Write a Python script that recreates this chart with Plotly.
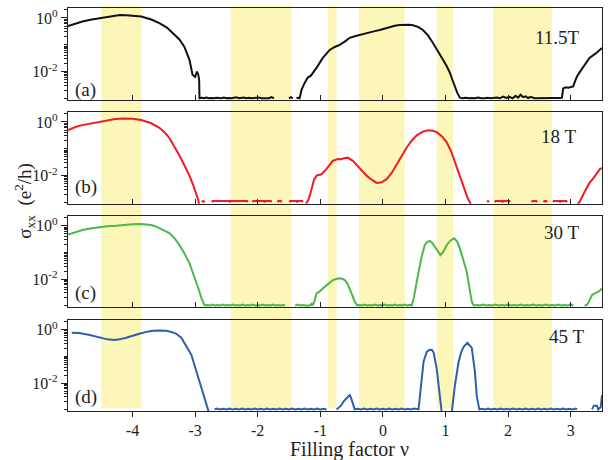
import plotly.graph_objects as go

# ---------------- data (log10 of sigma_xx in e^2/h vs filling factor) ----------------
band_start = [-4.5, -2.43, -0.88, -0.38, 0.86, 1.76]
band_end = [-3.86, -1.46, -0.74, 0.35, 1.12, 2.70]

fields = ["11.5T", "18 T", "30 T", "45 T"]
panel_tags = ["(a)", "(b)", "(c)", "(d)"]
x_ticks = [-4, -3, -2, -1, 0, 1, 2, 3]
x_ticktext = ["-4", "-3", "-2", "-1", "0", "1", "2", "3"]

G = (None, None)

black_pts = [(-5.03,-0.30),(-4.9,-0.20),(-4.8,-0.13),(-4.65,-0.06),(-4.53,-0.01),(-4.4,0.04),(-4.3,0.08),(-4.2,0.11),(-4.1,0.10),(-4.0,0.08),(-3.86,0.05),(-3.7,-0.06),(-3.57,-0.19),(-3.45,-0.36),(-3.36,-0.56),(-3.25,-0.80),(-3.17,-1.08),(-3.09,-1.56),(-3.04,-2.12),(-3.0,-2.19),(-2.97,-2.00),(-2.95,-2.10),(-2.935,-2.30),(-2.93,-2.99),
    (-2.9,-2.97),(-2.86,-2.99),(-2.82,-2.96),(-2.78,-2.99),(-2.74,-2.98),(-2.7,-2.99),(-2.66,-2.97),(-2.62,-2.99),(-2.58,-2.99),(-2.54,-2.96),(-2.5,-2.99),(-2.46,-2.98),(-2.42,-2.99),(-2.38,-2.97),(-2.34,-2.95),(-2.3,-2.99),(-2.26,-2.98),(-2.22,-2.96),(-2.18,-2.99),(-2.14,-2.97),(-2.1,-2.99),(-2.06,-2.98),(-2.02,-2.99),(-1.98,-2.96),(-1.94,-2.99),(-1.9,-2.99),(-1.86,-2.97),(-1.82,-2.99),(-1.78,-2.95),(-1.74,-2.99),
    G,(-1.5,-2.99),(-1.47,-2.95),(-1.44,-2.99),G,
    (-1.38,-2.99),(-1.36,-2.97),(-1.33,-2.99),(-1.30,-2.68),(-1.25,-2.42),(-1.2,-2.22),(-1.15,-2.15),(-1.1,-2.0),(-1.05,-1.82),(-0.96,-1.49),(-0.85,-1.19),(-0.77,-1.08),(-0.69,-1.0),(-0.61,-0.88),(-0.53,-0.74),(-0.45,-0.68),(-0.37,-0.63),(-0.29,-0.58),(-0.21,-0.52),(-0.13,-0.49),(-0.05,-0.45),(0.03,-0.40),(0.11,-0.33),(0.19,-0.29),(0.27,-0.26),(0.35,-0.25),(0.42,-0.25),(0.48,-0.27),(0.56,-0.33),(0.64,-0.45),(0.72,-0.65),(0.8,-0.93),(0.88,-1.22),(0.96,-1.56),(1.02,-1.8),(1.07,-2.04),(1.11,-2.3),(1.15,-2.56),(1.19,-2.8),(1.23,-2.97),
    (1.27,-2.99),(1.32,-2.97),(1.37,-2.99),(1.42,-2.98),(1.47,-2.99),(1.52,-2.96),(1.57,-2.99),(1.62,-2.99),(1.67,-2.97),(1.72,-2.99),(1.77,-2.98),(1.82,-2.96),(1.87,-2.99),(1.92,-2.93),(1.97,-2.98),(2.02,-2.94),(2.07,-2.99),(2.12,-2.90),(2.16,-2.97),(2.2,-2.86),(2.24,-2.95),(2.28,-2.92),(2.32,-2.98),(2.36,-2.94),(2.42,-2.99),(2.5,-2.98),(2.6,-2.98),(2.7,-2.98),(2.8,-2.98),(2.86,-2.97),
    (2.88,-2.62),(2.92,-2.58),(2.96,-2.60),(3.0,-2.57),(3.04,-2.55),(3.07,-2.35),(3.1,-2.18),(3.15,-2.0),(3.2,-1.82),(3.3,-1.49),(3.4,-1.32),(3.5,-1.12)]

red_pts = [(-5.03,-0.30),(-4.9,-0.18),(-4.8,-0.12),(-4.65,-0.05),(-4.53,0.0),(-4.4,0.06),(-4.3,0.1),(-4.16,0.13),(-4.0,0.12),(-3.86,0.07),(-3.7,-0.05),(-3.57,-0.22),(-3.48,-0.40),(-3.41,-0.6),(-3.33,-0.9),(-3.25,-1.25),(-3.17,-1.62),(-3.09,-2.0),(-3.03,-2.35),(-2.98,-2.65),(-2.95,-2.9),(-2.93,-3.2),G,
    (-2.89,-2.99),(-2.88,-2.95),(-2.86,-2.95),(-2.85,-2.99),G,
    (-2.73,-2.99),(-2.72,-2.94),(-2.45,-2.94),(-2.44,-2.99),(-2.43,-2.94),(-2.17,-2.94),(-2.16,-2.99),G,
    (-2.08,-2.99),(-2.07,-2.94),(-1.90,-2.94),(-1.89,-2.99),(-1.88,-2.94),(-1.79,-2.94),(-1.78,-2.99),G,
    (-1.68,-2.99),(-1.67,-2.94),(-1.63,-2.94),(-1.62,-2.99),G,
    (-1.49,-2.99),(-1.48,-2.94),(-1.38,-2.94),(-1.37,-2.99),(-1.36,-2.94),(-1.29,-2.94),(-1.28,-2.99),G,
    (-1.23,-3.05),(-1.19,-2.9),(-1.15,-2.6),(-1.1,-2.15),(-1.06,-2.0),(-0.98,-1.95),(-0.9,-1.75),(-0.8,-1.45),(-0.72,-1.38),(-0.66,-1.39),(-0.62,-1.35),(-0.56,-1.33),(-0.48,-1.45),(-0.42,-1.6),(-0.37,-1.75),(-0.26,-2.0),(-0.18,-2.15),(-0.1,-2.27),(-0.02,-2.25),(0.06,-2.13),(0.14,-1.9),(0.2,-1.65),(0.27,-1.38),(0.38,-0.95),(0.46,-0.7),(0.54,-0.5),(0.64,-0.36),(0.72,-0.31),(0.8,-0.33),(0.86,-0.38),(0.95,-0.55),(1.02,-0.76),(1.09,-1.1),(1.15,-1.5),(1.21,-1.9),(1.26,-2.27),(1.31,-2.6),(1.36,-2.87),(1.39,-2.99),(1.42,-3.2),G,
    (1.67,-2.99),(1.68,-2.93),(1.69,-2.99),G,
    (1.79,-2.99),(1.80,-2.94),(1.9,-2.94),(1.91,-2.99),(1.92,-2.94),(2.02,-2.94),(2.03,-2.99),G,
    (2.38,-2.99),(2.39,-2.94),(2.45,-2.94),(2.46,-2.99),G,
    (2.57,-2.99),(2.58,-2.94),(2.61,-2.94),(2.62,-2.99),G,
    (2.72,-2.99),(2.73,-2.94),(2.82,-2.94),(2.83,-2.99),(2.84,-2.94),(2.93,-2.94),(2.94,-2.99),G,
    (3.11,-3.05),(3.14,-2.99),(3.2,-2.7),(3.25,-2.5),(3.3,-2.27),(3.36,-2.1),(3.42,-1.9),(3.47,-1.75),(3.5,-1.72)]

green_pts = [(-5.03,-0.33),(-4.9,-0.22),(-4.8,-0.16),(-4.65,-0.09),(-4.53,-0.05),(-4.4,-0.02),(-4.26,0.0),(-4.1,0.04),(-4.0,0.06),(-3.86,0.07),(-3.78,0.06),(-3.7,0.03),(-3.62,-0.03),(-3.52,-0.13),(-3.41,-0.27),(-3.33,-0.46),(-3.25,-0.72),(-3.17,-1.04),(-3.09,-1.4),(-3.03,-1.8),(-2.98,-2.1),(-2.94,-2.4),(-2.9,-2.71),(-2.85,-2.98),
    (-2.8,-2.97),(-2.75,-2.99),(-2.72,-2.96),(-2.68,-2.99),(-2.64,-2.97),(-2.6,-2.99),(-2.56,-2.96),(-2.52,-2.99),(-2.48,-2.97),(-2.44,-2.99),(-2.4,-2.96),(-2.36,-2.99),(-2.32,-2.97),(-2.28,-2.99),(-2.24,-2.96),(-2.2,-2.99),(-2.16,-2.97),(-2.12,-2.99),(-2.08,-2.96),(-2.04,-2.99),(-2.0,-2.97),(-1.96,-2.99),(-1.92,-2.96),(-1.88,-2.99),(-1.84,-2.97),(-1.8,-2.99),(-1.76,-2.96),(-1.72,-2.99),(-1.68,-2.97),(-1.64,-2.99),(-1.6,-2.97),(-1.56,-2.99),G,
    (-1.4,-2.99),(-1.36,-2.96),(-1.32,-2.99),(-1.28,-2.97),(-1.24,-2.99),(-1.2,-2.98),(-1.16,-2.99),(-1.14,-2.93),(-1.12,-2.99),
    (-1.09,-2.8),(-1.06,-2.54),(-1.02,-2.48),(-0.98,-2.41),(-0.94,-2.32),(-0.9,-2.23),(-0.85,-2.12),(-0.8,-2.04),(-0.75,-2.0),(-0.69,-1.97),(-0.65,-1.99),(-0.61,-2.04),(-0.57,-2.15),(-0.53,-2.35),(-0.49,-2.6),(-0.45,-2.85),(-0.41,-2.99),
    (-0.37,-2.97),(-0.33,-2.99),(-0.29,-2.96),(-0.25,-2.99),(-0.21,-2.97),(-0.17,-2.99),(-0.13,-2.96),(-0.09,-2.99),(-0.05,-2.97),(-0.01,-2.99),(0.03,-2.96),(0.07,-2.99),(0.11,-2.97),(0.15,-2.99),(0.19,-2.96),(0.23,-2.99),(0.27,-2.97),(0.31,-2.99),(0.35,-2.96),(0.39,-2.99),(0.43,-2.97),(0.46,-2.99),
    (0.49,-2.75),(0.53,-2.2),(0.57,-1.73),(0.62,-1.15),(0.67,-0.72),(0.71,-0.6),(0.75,-0.57),(0.79,-0.65),(0.83,-0.79),(0.88,-1.0),(0.92,-1.1),(0.97,-0.95),(1.02,-0.72),(1.08,-0.55),(1.14,-0.47),(1.19,-0.6),(1.23,-0.85),(1.28,-1.25),(1.34,-1.73),(1.38,-2.3),(1.42,-2.85),(1.45,-2.99),
    (1.5,-2.97),(1.55,-2.99),(1.6,-2.96),(1.65,-2.99),(1.7,-2.97),(1.75,-2.99),(1.8,-2.96),(1.85,-2.99),(1.9,-2.97),(1.95,-2.99),(2.0,-2.96),(2.05,-2.99),(2.1,-2.97),(2.15,-2.99),(2.2,-2.96),(2.25,-2.99),(2.3,-2.97),(2.35,-2.99),(2.4,-2.96),(2.45,-2.99),(2.5,-2.97),(2.55,-2.99),(2.6,-2.96),(2.65,-2.99),(2.7,-2.97),(2.75,-2.99),(2.8,-2.96),(2.85,-2.99),(2.9,-2.97),(2.95,-2.99),(3.0,-2.96),(3.04,-2.99),G,
    (3.22,-2.99),(3.26,-2.97),(3.3,-2.8),(3.34,-2.6),(3.38,-2.55),(3.42,-2.5),(3.46,-2.45),(3.5,-2.35)]

blue_pts = [(-4.97,-0.11),(-4.85,-0.12),(-4.7,-0.19),(-4.53,-0.3),(-4.4,-0.36),(-4.29,-0.38),(-4.2,-0.36),(-4.1,-0.3),(-4.0,-0.22),(-3.89,-0.15),(-3.78,-0.08),(-3.68,-0.04),(-3.57,-0.03),(-3.46,-0.04),(-3.38,-0.08),(-3.3,-0.15),(-3.22,-0.3),(-3.14,-0.6),(-3.06,-0.94),(-3.0,-1.4),(-2.93,-1.95),(-2.87,-2.4),(-2.82,-2.82),(-2.78,-3.1),G,
    (-2.69,-2.99),(-2.65,-2.96),(-2.6,-2.99),(-2.55,-2.97),(-2.5,-2.99),(-2.45,-2.96),(-2.4,-2.99),(-2.35,-2.97),(-2.3,-2.99),(-2.25,-2.96),(-2.2,-2.99),(-2.15,-2.97),(-2.1,-2.99),(-2.05,-2.96),(-2.0,-2.99),(-1.95,-2.97),(-1.9,-2.99),(-1.85,-2.96),(-1.8,-2.99),(-1.75,-2.97),(-1.7,-2.99),(-1.65,-2.96),(-1.6,-2.99),(-1.55,-2.97),(-1.5,-2.99),(-1.45,-2.96),(-1.4,-2.99),(-1.35,-2.97),(-1.3,-2.99),(-1.25,-2.96),(-1.2,-2.99),(-1.15,-2.97),(-1.1,-2.99),(-1.05,-2.96),(-1.0,-2.99),(-0.95,-2.97),(-0.9,-2.99),G,
    (-0.74,-2.99),(-0.71,-2.93),(-0.67,-2.85),(-0.63,-2.7),(-0.59,-2.6),(-0.56,-2.5),(-0.53,-2.45),(-0.51,-2.55),(-0.49,-2.68),(-0.47,-2.85),(-0.45,-2.99),
    (-0.4,-2.97),(-0.35,-2.99),(-0.3,-2.96),(-0.25,-2.99),(-0.2,-2.97),(-0.15,-2.99),(-0.1,-2.96),(-0.05,-2.99),(0.0,-2.97),(0.05,-2.99),(0.1,-2.96),(0.15,-2.99),(0.2,-2.97),(0.25,-2.99),(0.3,-2.96),(0.35,-2.99),(0.4,-2.97),(0.45,-2.99),(0.5,-2.96),(0.54,-2.99),
    (0.57,-2.99),(0.6,-2.3),(0.65,-1.2),(0.7,-0.83),(0.74,-0.76),(0.78,-0.75),(0.81,-0.85),(0.86,-1.47),(0.91,-2.7),(0.94,-3.1),G,
    (1.1,-3.1),(1.15,-2.1),(1.21,-1.2),(1.25,-0.85),(1.29,-0.64),(1.35,-0.49),(1.42,-0.68),(1.47,-1.58),(1.5,-2.5),(1.54,-2.99),
    (1.58,-2.97),(1.63,-2.99),(1.68,-2.96),(1.73,-2.99),(1.78,-2.97),(1.83,-2.99),(1.88,-2.96),(1.93,-2.99),(1.98,-2.97),(2.03,-2.99),(2.08,-2.96),(2.13,-2.99),(2.18,-2.97),(2.23,-2.99),(2.28,-2.96),(2.33,-2.99),(2.38,-2.97),(2.43,-2.99),(2.48,-2.96),(2.53,-2.99),(2.58,-2.97),(2.63,-2.99),(2.68,-2.96),(2.73,-2.99),(2.78,-2.97),(2.83,-2.99),(2.88,-2.96),(2.93,-2.99),(2.98,-2.97),(3.03,-2.99),(3.08,-2.96),(3.1,-2.99),G,
    (3.34,-2.99),(3.37,-2.85),(3.42,-2.85),(3.44,-2.99),(3.48,-2.9),(3.5,-2.45)]

series = [black_pts, red_pts, green_pts, blue_pts]
colors = ["#111111", "#ee1c25", "#4cb848", "#2f5fac"]

# ---------------- figure ----------------
W, H = 608, 460
L, R, T, B = 68, 6, 8, 49
ph = H - T - B
pw = W - L - R
domains = [[0.772, 1.0], [0.514, 0.742], [0.258, 0.484], [0.0, 0.226]]

fig = go.Figure()
font_family = "Liberation Serif, Times New Roman, serif"

for i, pts in enumerate(series):
    xs = [p[0] for p in pts]
    ys = [None if p[1] is None else 10 ** p[1] for p in pts]
    fig.add_trace(go.Scatter(x=xs, y=ys, mode="lines", line=dict(color=colors[i], width=2),
                             connectgaps=False, showlegend=False, hoverinfo="skip",
                             xaxis="x" if i == 0 else f"x{i+1}",
                             yaxis="y" if i == 0 else f"y{i+1}"))

minor_vals = [m * 10 ** e for e in (-3, -2, -1) for m in range(2, 10)] + [2.0]

for i in range(4):
    sx = "" if i == 0 else str(i + 1)
    last = i == 3
    fig.update_layout(**{
        f"xaxis{sx}": dict(domain=[0, 1], anchor=f"y{sx}", range=[-5.03, 3.5],
                           tickvals=x_ticks, ticktext=x_ticktext,
                           ticks="outside" if last else "inside", ticklen=5,
                           tickwidth=1, tickcolor="#222",
                           showticklabels=last, showline=True, linecolor="#222", linewidth=1.3,
                           mirror=True, showgrid=False, zeroline=False,
                           tickfont=dict(family=font_family, size=16, color="#222"),
                           **({} if i == 0 else {"matches": "x"})),
        f"yaxis{sx}": dict(domain=domains[i], anchor=f"x{sx}", type="log", range=[-3.05, 0.37],
                           tickvals=[1, 0.01],
                           ticktext=["10<sup>0</sup>", "10<sup>-2</sup>"],
                           ticks="outside", ticklen=6, tickwidth=1, tickcolor="#222",
                           minor=dict(tickvals=minor_vals + [0.1, 0.001], ticks="outside", ticklen=3,
                                      tickwidth=1, tickcolor="#222", showgrid=False),
                           showline=True, linecolor="#222", linewidth=1.3, mirror=True,
                           showgrid=False, zeroline=False,
                           tickfont=dict(family=font_family, size=16, color="#222")),
    })

# yellow bands spanning all panels
for a, b in zip(band_start, band_end):
    fig.add_shape(type="rect", xref="x", yref="paper", x0=a, x1=b, y0=0.007, y1=1.005,
                  fillcolor="#fdf6b9", line=dict(width=0), layer="below")

tag_y = [0.797, 0.556, 0.293, 0.035]
field_pos = [(0.916, 0.928), (0.918, 0.680), (0.925, 0.442), (0.934, 0.184)]
for i in range(4):
    fig.add_annotation(text=panel_tags[i], xref="paper", yref="paper", x=0.009, y=tag_y[i],
                       xanchor="left", yanchor="middle", showarrow=False,
                       font=dict(family=font_family, size=19, color="#222"))
    fig.add_annotation(text=fields[i], xref="paper", yref="paper", x=field_pos[i][0], y=field_pos[i][1],
                       xanchor="center", yanchor="middle", showarrow=False,
                       font=dict(family=font_family, size=19, color="#222"))

fig.add_annotation(text="σ<sub>xx</sub>  (e<sup>2</sup>/h)", xref="paper", yref="paper",
                   x=(25 - L) / pw, y=0.522, textangle=-90, showarrow=False,
                   xanchor="center", yanchor="middle",
                   font=dict(family=font_family, size=19, color="#222"))
fig.add_annotation(text="Filling factor ν", xref="paper", yref="paper",
                   x=(349 - L) / pw, y=(411 - 450) / ph,
                   showarrow=False, xanchor="center", yanchor="middle",
                   font=dict(family=font_family, size=20, color="#222"))

fig.update_layout(width=W, height=H, margin=dict(l=L, r=R, t=T, b=B),
                  paper_bgcolor="white", plot_bgcolor="rgba(0,0,0,0)")

fig.write_html("out.html", config={"displayModeBar": False},
               post_script="document.body.style.margin='0';document.body.style.overflow='hidden';")
